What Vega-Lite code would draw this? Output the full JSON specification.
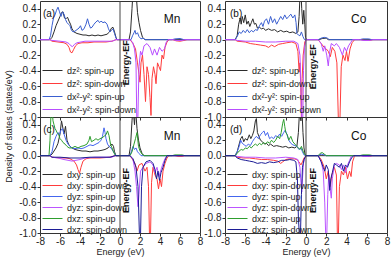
{
"$schema": "https://vega.github.io/schema/vega-lite/v6.json",
"padding": {"left": 4, "top": 0, "right": 2, "bottom": 0},
"config": {
 "font": "Liberation Sans",
 "view": {"stroke": "#333", "strokeWidth": 1},
 "axis": {"grid": false, "labelFontSize": 10, "titleFontSize": 9, "titleFontWeight": "normal", "labelColor": "#222", "titleColor": "#222", "tickColor": "#333", "domainColor": "#333", "tickSize": 3, "labelPadding": 1, "labelOverlap": false},
 "axisX": {"labelPadding": 0},
 "legend": {"orient": "none", "legendX": 8, "title": null, "labelFontSize": 9, "labelColor": "#222", "symbolType": "M-2.5,0H2.5", "symbolSize": 64, "symbolStrokeWidth": 1, "symbolFillColor": "transparent", "padding": 0, "rowPadding": 3, "labelOffset": 10, "labelLimit": 300},
 "text": {"color": "#111"}
},
"columns": 2,
"spacing": {"row": 0, "column": 25},
"bounds": "flush",
"resolve": {"scale": {"color": "independent"}, "legend": {"color": "independent"}},
"datasets": {
"a": [
{"s":"dz²: spin-up","e":-8,"v":0},{"s":"dz²: spin-up","e":-7,"v":0},{"s":"dz²: spin-up","e":-6.8,"v":0.03},{"s":"dz²: spin-up","e":-6.6,"v":0.1},{"s":"dz²: spin-up","e":-6.4,"v":0.18},{"s":"dz²: spin-up","e":-6.2,"v":0.24},{"s":"dz²: spin-up","e":-6,"v":0.3},{"s":"dz²: spin-up","e":-5.85,"v":0.35},{"s":"dz²: spin-up","e":-5.7,"v":0.36},{"s":"dz²: spin-up","e":-5.55,"v":0.28},{"s":"dz²: spin-up","e":-5.4,"v":0.27},{"s":"dz²: spin-up","e":-5.25,"v":0.29},{"s":"dz²: spin-up","e":-5.1,"v":0.24},{"s":"dz²: spin-up","e":-4.95,"v":0.2},{"s":"dz²: spin-up","e":-4.8,"v":0.14},{"s":"dz²: spin-up","e":-4.6,"v":0.1},{"s":"dz²: spin-up","e":-4.3,"v":0.08},{"s":"dz²: spin-up","e":-4,"v":0.07},{"s":"dz²: spin-up","e":-3.7,"v":0.06},{"s":"dz²: spin-up","e":-3.4,"v":0.06},{"s":"dz²: spin-up","e":-3.1,"v":0.05},{"s":"dz²: spin-up","e":-2.8,"v":0.06},{"s":"dz²: spin-up","e":-2.5,"v":0.05},{"s":"dz²: spin-up","e":-2.2,"v":0.06},{"s":"dz²: spin-up","e":-1.9,"v":0.05},{"s":"dz²: spin-up","e":-1.6,"v":0.06},{"s":"dz²: spin-up","e":-1.3,"v":0.07},{"s":"dz²: spin-up","e":-1.05,"v":0.1},{"s":"dz²: spin-up","e":-0.85,"v":0.15},{"s":"dz²: spin-up","e":-0.7,"v":0.16},{"s":"dz²: spin-up","e":-0.55,"v":0.1},{"s":"dz²: spin-up","e":-0.4,"v":0.03},{"s":"dz²: spin-up","e":-0.3,"v":0},{"s":"dz²: spin-up","e":0.9,"v":0},{"s":"dz²: spin-up","e":1.05,"v":0.1},{"s":"dz²: spin-up","e":1.2,"v":0.4},{"s":"dz²: spin-up","e":1.3,"v":0.62},{"s":"dz²: spin-up","e":1.45,"v":0.55},{"s":"dz²: spin-up","e":1.6,"v":0.62},{"s":"dz²: spin-up","e":1.75,"v":0.35},{"s":"dz²: spin-up","e":1.9,"v":0.22},{"s":"dz²: spin-up","e":2.05,"v":0.12},{"s":"dz²: spin-up","e":2.25,"v":0.03},{"s":"dz²: spin-up","e":2.5,"v":0},{"s":"dz²: spin-up","e":8,"v":0},
{"s":"dz²: spin-down","e":-8,"v":0},{"s":"dz²: spin-down","e":-7,"v":0},{"s":"dz²: spin-down","e":-6.8,"v":-0.02},{"s":"dz²: spin-down","e":-6.2,"v":-0.03},{"s":"dz²: spin-down","e":-5.6,"v":-0.04},{"s":"dz²: spin-down","e":-5.3,"v":-0.06},{"s":"dz²: spin-down","e":-5.1,"v":-0.1},{"s":"dz²: spin-down","e":-4.95,"v":-0.16},{"s":"dz²: spin-down","e":-4.8,"v":-0.17},{"s":"dz²: spin-down","e":-4.65,"v":-0.13},{"s":"dz²: spin-down","e":-4.45,"v":-0.08},{"s":"dz²: spin-down","e":-4.2,"v":-0.05},{"s":"dz²: spin-down","e":-3.8,"v":-0.04},{"s":"dz²: spin-down","e":-3.2,"v":-0.04},{"s":"dz²: spin-down","e":-2.6,"v":-0.03},{"s":"dz²: spin-down","e":-2,"v":-0.03},{"s":"dz²: spin-down","e":-1.4,"v":-0.03},{"s":"dz²: spin-down","e":-0.8,"v":-0.02},{"s":"dz²: spin-down","e":-0.4,"v":0},{"s":"dz²: spin-down","e":1,"v":0},{"s":"dz²: spin-down","e":1.3,"v":-0.05},{"s":"dz²: spin-down","e":1.55,"v":-0.12},{"s":"dz²: spin-down","e":1.75,"v":-0.3},{"s":"dz²: spin-down","e":1.9,"v":-0.45},{"s":"dz²: spin-down","e":2,"v":-0.55},{"s":"dz²: spin-down","e":2.1,"v":-0.3},{"s":"dz²: spin-down","e":2.25,"v":-0.2},{"s":"dz²: spin-down","e":2.4,"v":-0.45},{"s":"dz²: spin-down","e":2.55,"v":-0.8},{"s":"dz²: spin-down","e":2.7,"v":-0.35},{"s":"dz²: spin-down","e":2.85,"v":-0.45},{"s":"dz²: spin-down","e":3,"v":-0.75},{"s":"dz²: spin-down","e":3.1,"v":-0.98},{"s":"dz²: spin-down","e":3.2,"v":-0.5},{"s":"dz²: spin-down","e":3.35,"v":-0.35},{"s":"dz²: spin-down","e":3.5,"v":-0.45},{"s":"dz²: spin-down","e":3.6,"v":-0.57},{"s":"dz²: spin-down","e":3.75,"v":-0.3},{"s":"dz²: spin-down","e":3.9,"v":-0.35},{"s":"dz²: spin-down","e":4.05,"v":-0.4},{"s":"dz²: spin-down","e":4.2,"v":-0.2},{"s":"dz²: spin-down","e":4.35,"v":-0.25},{"s":"dz²: spin-down","e":4.5,"v":-0.1},{"s":"dz²: spin-down","e":4.7,"v":-0.03},{"s":"dz²: spin-down","e":4.9,"v":0},{"s":"dz²: spin-down","e":5.3,"v":0},{"s":"dz²: spin-down","e":5.6,"v":-0.015},{"s":"dz²: spin-down","e":6,"v":-0.02},{"s":"dz²: spin-down","e":6.4,"v":-0.01},{"s":"dz²: spin-down","e":6.7,"v":0},{"s":"dz²: spin-down","e":8,"v":0},
{"s":"dx²-y²: spin-up","e":-8,"v":0},{"s":"dx²-y²: spin-up","e":-7.1,"v":0},{"s":"dx²-y²: spin-up","e":-6.95,"v":0.05},{"s":"dx²-y²: spin-up","e":-6.8,"v":0.18},{"s":"dx²-y²: spin-up","e":-6.65,"v":0.28},{"s":"dx²-y²: spin-up","e":-6.5,"v":0.32},{"s":"dx²-y²: spin-up","e":-6.35,"v":0.38},{"s":"dx²-y²: spin-up","e":-6.2,"v":0.42},{"s":"dx²-y²: spin-up","e":-6.05,"v":0.36},{"s":"dx²-y²: spin-up","e":-5.9,"v":0.3},{"s":"dx²-y²: spin-up","e":-5.75,"v":0.36},{"s":"dx²-y²: spin-up","e":-5.6,"v":0.33},{"s":"dx²-y²: spin-up","e":-5.45,"v":0.26},{"s":"dx²-y²: spin-up","e":-5.3,"v":0.22},{"s":"dx²-y²: spin-up","e":-5.15,"v":0.2},{"s":"dx²-y²: spin-up","e":-5,"v":0.18},{"s":"dx²-y²: spin-up","e":-4.85,"v":0.12},{"s":"dx²-y²: spin-up","e":-4.7,"v":0.1},{"s":"dx²-y²: spin-up","e":-4.5,"v":0.11},{"s":"dx²-y²: spin-up","e":-4.3,"v":0.13},{"s":"dx²-y²: spin-up","e":-4.1,"v":0.15},{"s":"dx²-y²: spin-up","e":-3.95,"v":0.18},{"s":"dx²-y²: spin-up","e":-3.8,"v":0.12},{"s":"dx²-y²: spin-up","e":-3.6,"v":0.14},{"s":"dx²-y²: spin-up","e":-3.4,"v":0.2},{"s":"dx²-y²: spin-up","e":-3.25,"v":0.27},{"s":"dx²-y²: spin-up","e":-3.1,"v":0.2},{"s":"dx²-y²: spin-up","e":-2.95,"v":0.15},{"s":"dx²-y²: spin-up","e":-2.8,"v":0.16},{"s":"dx²-y²: spin-up","e":-2.6,"v":0.2},{"s":"dx²-y²: spin-up","e":-2.4,"v":0.23},{"s":"dx²-y²: spin-up","e":-2.2,"v":0.25},{"s":"dx²-y²: spin-up","e":-2.05,"v":0.22},{"s":"dx²-y²: spin-up","e":-1.9,"v":0.24},{"s":"dx²-y²: spin-up","e":-1.7,"v":0.22},{"s":"dx²-y²: spin-up","e":-1.5,"v":0.23},{"s":"dx²-y²: spin-up","e":-1.3,"v":0.2},{"s":"dx²-y²: spin-up","e":-1.15,"v":0.14},{"s":"dx²-y²: spin-up","e":-1,"v":0.1},{"s":"dx²-y²: spin-up","e":-0.85,"v":0.12},{"s":"dx²-y²: spin-up","e":-0.7,"v":0.14},{"s":"dx²-y²: spin-up","e":-0.55,"v":0.08},{"s":"dx²-y²: spin-up","e":-0.4,"v":0.02},{"s":"dx²-y²: spin-up","e":-0.3,"v":0},{"s":"dx²-y²: spin-up","e":1.1,"v":0},{"s":"dx²-y²: spin-up","e":1.25,"v":0.05},{"s":"dx²-y²: spin-up","e":1.4,"v":0.09},{"s":"dx²-y²: spin-up","e":1.5,"v":0.12},{"s":"dx²-y²: spin-up","e":1.6,"v":0.07},{"s":"dx²-y²: spin-up","e":1.75,"v":0.09},{"s":"dx²-y²: spin-up","e":1.9,"v":0.04},{"s":"dx²-y²: spin-up","e":2.1,"v":0.01},{"s":"dx²-y²: spin-up","e":2.3,"v":0.02},{"s":"dx²-y²: spin-up","e":2.5,"v":0},{"s":"dx²-y²: spin-up","e":5.2,"v":0},{"s":"dx²-y²: spin-up","e":5.5,"v":0.01},{"s":"dx²-y²: spin-up","e":6,"v":0.015},{"s":"dx²-y²: spin-up","e":6.4,"v":0},{"s":"dx²-y²: spin-up","e":8,"v":0},
{"s":"dx²-y²: spin-down","e":-8,"v":0},{"s":"dx²-y²: spin-down","e":-7,"v":0},{"s":"dx²-y²: spin-down","e":-6.8,"v":-0.01},{"s":"dx²-y²: spin-down","e":-6,"v":-0.02},{"s":"dx²-y²: spin-down","e":-5.4,"v":-0.03},{"s":"dx²-y²: spin-down","e":-5.1,"v":-0.05},{"s":"dx²-y²: spin-down","e":-4.9,"v":-0.08},{"s":"dx²-y²: spin-down","e":-4.75,"v":-0.09},{"s":"dx²-y²: spin-down","e":-4.55,"v":-0.06},{"s":"dx²-y²: spin-down","e":-4.3,"v":-0.04},{"s":"dx²-y²: spin-down","e":-3.5,"v":-0.02},{"s":"dx²-y²: spin-down","e":-2.5,"v":-0.02},{"s":"dx²-y²: spin-down","e":-1.5,"v":-0.02},{"s":"dx²-y²: spin-down","e":-0.8,"v":-0.02},{"s":"dx²-y²: spin-down","e":-0.4,"v":0},{"s":"dx²-y²: spin-down","e":1,"v":0},{"s":"dx²-y²: spin-down","e":1.25,"v":-0.03},{"s":"dx²-y²: spin-down","e":1.45,"v":-0.12},{"s":"dx²-y²: spin-down","e":1.6,"v":-0.3},{"s":"dx²-y²: spin-down","e":1.68,"v":-1.05},{"s":"dx²-y²: spin-down","e":1.78,"v":-1.05},{"s":"dx²-y²: spin-down","e":1.9,"v":-0.35},{"s":"dx²-y²: spin-down","e":2.05,"v":-0.15},{"s":"dx²-y²: spin-down","e":2.2,"v":-0.2},{"s":"dx²-y²: spin-down","e":2.4,"v":-0.08},{"s":"dx²-y²: spin-down","e":2.7,"v":-0.05},{"s":"dx²-y²: spin-down","e":3,"v":-0.1},{"s":"dx²-y²: spin-down","e":3.25,"v":-0.2},{"s":"dx²-y²: spin-down","e":3.45,"v":-0.12},{"s":"dx²-y²: spin-down","e":3.7,"v":-0.2},{"s":"dx²-y²: spin-down","e":3.95,"v":-0.1},{"s":"dx²-y²: spin-down","e":4.2,"v":-0.15},{"s":"dx²-y²: spin-down","e":4.45,"v":-0.12},{"s":"dx²-y²: spin-down","e":4.6,"v":-0.04},{"s":"dx²-y²: spin-down","e":4.8,"v":0},{"s":"dx²-y²: spin-down","e":5.3,"v":0},{"s":"dx²-y²: spin-down","e":5.6,"v":-0.01},{"s":"dx²-y²: spin-down","e":6.2,"v":-0.01},{"s":"dx²-y²: spin-down","e":6.5,"v":0},{"s":"dx²-y²: spin-down","e":8,"v":0}
],
"b": [
{"s":"dz²: spin-up","e":-8,"v":0},{"s":"dz²: spin-up","e":-7,"v":0},{"s":"dz²: spin-up","e":-6.8,"v":0.05},{"s":"dz²: spin-up","e":-6.65,"v":0.2},{"s":"dz²: spin-up","e":-6.5,"v":0.28},{"s":"dz²: spin-up","e":-6.4,"v":0.2},{"s":"dz²: spin-up","e":-6.3,"v":0.3},{"s":"dz²: spin-up","e":-6.15,"v":0.22},{"s":"dz²: spin-up","e":-6,"v":0.32},{"s":"dz²: spin-up","e":-5.85,"v":0.2},{"s":"dz²: spin-up","e":-5.7,"v":0.24},{"s":"dz²: spin-up","e":-5.55,"v":0.17},{"s":"dz²: spin-up","e":-5.4,"v":0.22},{"s":"dz²: spin-up","e":-5.25,"v":0.27},{"s":"dz²: spin-up","e":-5.1,"v":0.2},{"s":"dz²: spin-up","e":-4.95,"v":0.21},{"s":"dz²: spin-up","e":-4.8,"v":0.15},{"s":"dz²: spin-up","e":-4.6,"v":0.16},{"s":"dz²: spin-up","e":-4.4,"v":0.14},{"s":"dz²: spin-up","e":-4.2,"v":0.15},{"s":"dz²: spin-up","e":-4,"v":0.12},{"s":"dz²: spin-up","e":-3.7,"v":0.14},{"s":"dz²: spin-up","e":-3.4,"v":0.12},{"s":"dz²: spin-up","e":-3.1,"v":0.13},{"s":"dz²: spin-up","e":-2.8,"v":0.1},{"s":"dz²: spin-up","e":-2.5,"v":0.12},{"s":"dz²: spin-up","e":-2.2,"v":0.1},{"s":"dz²: spin-up","e":-1.9,"v":0.11},{"s":"dz²: spin-up","e":-1.6,"v":0.09},{"s":"dz²: spin-up","e":-1.3,"v":0.1},{"s":"dz²: spin-up","e":-1,"v":0.08},{"s":"dz²: spin-up","e":-0.8,"v":0.1},{"s":"dz²: spin-up","e":-0.68,"v":0.3},{"s":"dz²: spin-up","e":-0.6,"v":0.55},{"s":"dz²: spin-up","e":-0.5,"v":0.62},{"s":"dz²: spin-up","e":-0.42,"v":0.4},{"s":"dz²: spin-up","e":-0.32,"v":0.2},{"s":"dz²: spin-up","e":-0.22,"v":0.38},{"s":"dz²: spin-up","e":-0.12,"v":0.2},{"s":"dz²: spin-up","e":-0.05,"v":0.03},{"s":"dz²: spin-up","e":0.05,"v":0},{"s":"dz²: spin-up","e":1.3,"v":0},{"s":"dz²: spin-up","e":1.6,"v":0.015},{"s":"dz²: spin-up","e":2,"v":0.02},{"s":"dz²: spin-up","e":2.2,"v":0},{"s":"dz²: spin-up","e":8,"v":0},
{"s":"dz²: spin-down","e":-8,"v":0},{"s":"dz²: spin-down","e":-7,"v":0},{"s":"dz²: spin-down","e":-6.8,"v":-0.02},{"s":"dz²: spin-down","e":-6,"v":-0.03},{"s":"dz²: spin-down","e":-5.5,"v":-0.05},{"s":"dz²: spin-down","e":-5,"v":-0.06},{"s":"dz²: spin-down","e":-4.5,"v":-0.07},{"s":"dz²: spin-down","e":-4,"v":-0.08},{"s":"dz²: spin-down","e":-3.7,"v":-0.1},{"s":"dz²: spin-down","e":-3.4,"v":-0.07},{"s":"dz²: spin-down","e":-3.1,"v":-0.09},{"s":"dz²: spin-down","e":-2.7,"v":-0.06},{"s":"dz²: spin-down","e":-2.3,"v":-0.05},{"s":"dz²: spin-down","e":-1.9,"v":-0.04},{"s":"dz²: spin-down","e":-1.4,"v":-0.03},{"s":"dz²: spin-down","e":-1,"v":-0.05},{"s":"dz²: spin-down","e":-0.8,"v":-0.15},{"s":"dz²: spin-down","e":-0.68,"v":-0.42},{"s":"dz²: spin-down","e":-0.6,"v":-0.3},{"s":"dz²: spin-down","e":-0.52,"v":-0.6},{"s":"dz²: spin-down","e":-0.45,"v":-1.05},{"s":"dz²: spin-down","e":-0.38,"v":-0.5},{"s":"dz²: spin-down","e":-0.28,"v":-0.2},{"s":"dz²: spin-down","e":-0.12,"v":-0.03},{"s":"dz²: spin-down","e":0,"v":0},{"s":"dz²: spin-down","e":1.2,"v":0},{"s":"dz²: spin-down","e":1.5,"v":-0.05},{"s":"dz²: spin-down","e":1.8,"v":-0.1},{"s":"dz²: spin-down","e":2,"v":-0.12},{"s":"dz²: spin-down","e":2.2,"v":-0.15},{"s":"dz²: spin-down","e":2.4,"v":-0.22},{"s":"dz²: spin-down","e":2.6,"v":-0.1},{"s":"dz²: spin-down","e":2.85,"v":-0.15},{"s":"dz²: spin-down","e":3.05,"v":-0.3},{"s":"dz²: spin-down","e":3.2,"v":-1.05},{"s":"dz²: spin-down","e":3.35,"v":-1.05},{"s":"dz²: spin-down","e":3.48,"v":-0.35},{"s":"dz²: spin-down","e":3.65,"v":-0.2},{"s":"dz²: spin-down","e":3.85,"v":-0.27},{"s":"dz²: spin-down","e":4,"v":-0.15},{"s":"dz²: spin-down","e":4.15,"v":-0.28},{"s":"dz²: spin-down","e":4.35,"v":-0.12},{"s":"dz²: spin-down","e":4.55,"v":-0.04},{"s":"dz²: spin-down","e":4.8,"v":0},{"s":"dz²: spin-down","e":5.5,"v":0},{"s":"dz²: spin-down","e":5.8,"v":-0.01},{"s":"dz²: spin-down","e":6.3,"v":-0.01},{"s":"dz²: spin-down","e":6.6,"v":0},{"s":"dz²: spin-down","e":8,"v":0},
{"s":"dx²-y²: spin-up","e":-8,"v":0},{"s":"dx²-y²: spin-up","e":-7,"v":0},{"s":"dx²-y²: spin-up","e":-6.8,"v":0.04},{"s":"dx²-y²: spin-up","e":-6.6,"v":0.1},{"s":"dx²-y²: spin-up","e":-6.4,"v":0.08},{"s":"dx²-y²: spin-up","e":-6.2,"v":0.12},{"s":"dx²-y²: spin-up","e":-6,"v":0.09},{"s":"dx²-y²: spin-up","e":-5.8,"v":0.13},{"s":"dx²-y²: spin-up","e":-5.6,"v":0.09},{"s":"dx²-y²: spin-up","e":-5.4,"v":0.12},{"s":"dx²-y²: spin-up","e":-5.2,"v":0.1},{"s":"dx²-y²: spin-up","e":-5,"v":0.13},{"s":"dx²-y²: spin-up","e":-4.8,"v":0.12},{"s":"dx²-y²: spin-up","e":-4.6,"v":0.18},{"s":"dx²-y²: spin-up","e":-4.4,"v":0.22},{"s":"dx²-y²: spin-up","e":-4.25,"v":0.17},{"s":"dx²-y²: spin-up","e":-4.1,"v":0.24},{"s":"dx²-y²: spin-up","e":-3.9,"v":0.27},{"s":"dx²-y²: spin-up","e":-3.7,"v":0.2},{"s":"dx²-y²: spin-up","e":-3.5,"v":0.3},{"s":"dx²-y²: spin-up","e":-3.3,"v":0.22},{"s":"dx²-y²: spin-up","e":-3.1,"v":0.27},{"s":"dx²-y²: spin-up","e":-2.9,"v":0.2},{"s":"dx²-y²: spin-up","e":-2.7,"v":0.25},{"s":"dx²-y²: spin-up","e":-2.5,"v":0.3},{"s":"dx²-y²: spin-up","e":-2.3,"v":0.26},{"s":"dx²-y²: spin-up","e":-2.1,"v":0.32},{"s":"dx²-y²: spin-up","e":-1.9,"v":0.27},{"s":"dx²-y²: spin-up","e":-1.7,"v":0.3},{"s":"dx²-y²: spin-up","e":-1.5,"v":0.33},{"s":"dx²-y²: spin-up","e":-1.3,"v":0.28},{"s":"dx²-y²: spin-up","e":-1.1,"v":0.32},{"s":"dx²-y²: spin-up","e":-0.98,"v":0.22},{"s":"dx²-y²: spin-up","e":-0.9,"v":0.08},{"s":"dx²-y²: spin-up","e":-0.75,"v":0.06},{"s":"dx²-y²: spin-up","e":-0.6,"v":0.05},{"s":"dx²-y²: spin-up","e":-0.45,"v":0.1},{"s":"dx²-y²: spin-up","e":-0.3,"v":0.04},{"s":"dx²-y²: spin-up","e":-0.15,"v":0},{"s":"dx²-y²: spin-up","e":1.2,"v":0},{"s":"dx²-y²: spin-up","e":1.5,"v":0.02},{"s":"dx²-y²: spin-up","e":1.8,"v":0.03},{"s":"dx²-y²: spin-up","e":2.1,"v":0.02},{"s":"dx²-y²: spin-up","e":2.3,"v":0},{"s":"dx²-y²: spin-up","e":5.3,"v":0},{"s":"dx²-y²: spin-up","e":5.6,"v":0.01},{"s":"dx²-y²: spin-up","e":6.2,"v":0.01},{"s":"dx²-y²: spin-up","e":6.5,"v":0},{"s":"dx²-y²: spin-up","e":8,"v":0},
{"s":"dx²-y²: spin-down","e":-8,"v":0},{"s":"dx²-y²: spin-down","e":-7,"v":0},{"s":"dx²-y²: spin-down","e":-6.8,"v":-0.01},{"s":"dx²-y²: spin-down","e":-6,"v":-0.02},{"s":"dx²-y²: spin-down","e":-5,"v":-0.02},{"s":"dx²-y²: spin-down","e":-4,"v":-0.03},{"s":"dx²-y²: spin-down","e":-3,"v":-0.03},{"s":"dx²-y²: spin-down","e":-2,"v":-0.02},{"s":"dx²-y²: spin-down","e":-1.2,"v":-0.02},{"s":"dx²-y²: spin-down","e":-0.8,"v":-0.05},{"s":"dx²-y²: spin-down","e":-0.6,"v":-0.2},{"s":"dx²-y²: spin-down","e":-0.5,"v":-0.6},{"s":"dx²-y²: spin-down","e":-0.42,"v":-1.05},{"s":"dx²-y²: spin-down","e":-0.32,"v":-1.05},{"s":"dx²-y²: spin-down","e":-0.25,"v":-0.4},{"s":"dx²-y²: spin-down","e":-0.15,"v":-0.1},{"s":"dx²-y²: spin-down","e":0,"v":0},{"s":"dx²-y²: spin-down","e":1.2,"v":0},{"s":"dx²-y²: spin-down","e":1.5,"v":-0.05},{"s":"dx²-y²: spin-down","e":1.7,"v":-0.15},{"s":"dx²-y²: spin-down","e":1.85,"v":-0.08},{"s":"dx²-y²: spin-down","e":2.05,"v":-0.2},{"s":"dx²-y²: spin-down","e":2.2,"v":-0.34},{"s":"dx²-y²: spin-down","e":2.35,"v":-0.15},{"s":"dx²-y²: spin-down","e":2.5,"v":-0.05},{"s":"dx²-y²: spin-down","e":2.8,"v":-0.08},{"s":"dx²-y²: spin-down","e":3,"v":-0.05},{"s":"dx²-y²: spin-down","e":3.3,"v":-0.1},{"s":"dx²-y²: spin-down","e":3.6,"v":-0.2},{"s":"dx²-y²: spin-down","e":3.8,"v":-0.1},{"s":"dx²-y²: spin-down","e":4,"v":-0.15},{"s":"dx²-y²: spin-down","e":4.2,"v":-0.08},{"s":"dx²-y²: spin-down","e":4.4,"v":-0.04},{"s":"dx²-y²: spin-down","e":4.6,"v":0},{"s":"dx²-y²: spin-down","e":5.3,"v":0},{"s":"dx²-y²: spin-down","e":5.6,"v":-0.01},{"s":"dx²-y²: spin-down","e":6.3,"v":-0.01},{"s":"dx²-y²: spin-down","e":6.6,"v":0},{"s":"dx²-y²: spin-down","e":8,"v":0}
],
"c": [
{"s":"dxy: spin-up","e":-8,"v":0},{"s":"dxy: spin-up","e":-7,"v":0},{"s":"dxy: spin-up","e":-6.8,"v":0.02},{"s":"dxy: spin-up","e":-6.6,"v":0.06},{"s":"dxy: spin-up","e":-6.4,"v":0.1},{"s":"dxy: spin-up","e":-6.2,"v":0.16},{"s":"dxy: spin-up","e":-6,"v":0.28},{"s":"dxy: spin-up","e":-5.85,"v":0.45},{"s":"dxy: spin-up","e":-5.7,"v":0.35},{"s":"dxy: spin-up","e":-5.6,"v":0.28},{"s":"dxy: spin-up","e":-5.45,"v":0.38},{"s":"dxy: spin-up","e":-5.3,"v":0.2},{"s":"dxy: spin-up","e":-5.15,"v":0.15},{"s":"dxy: spin-up","e":-5,"v":0.12},{"s":"dxy: spin-up","e":-4.8,"v":0.1},{"s":"dxy: spin-up","e":-4.5,"v":0.08},{"s":"dxy: spin-up","e":-4.2,"v":0.07},{"s":"dxy: spin-up","e":-3.8,"v":0.06},{"s":"dxy: spin-up","e":-3.4,"v":0.06},{"s":"dxy: spin-up","e":-3,"v":0.05},{"s":"dxy: spin-up","e":-2.6,"v":0.06},{"s":"dxy: spin-up","e":-2.2,"v":0.06},{"s":"dxy: spin-up","e":-1.8,"v":0.07},{"s":"dxy: spin-up","e":-1.5,"v":0.08},{"s":"dxy: spin-up","e":-1.2,"v":0.1},{"s":"dxy: spin-up","e":-1,"v":0.13},{"s":"dxy: spin-up","e":-0.8,"v":0.15},{"s":"dxy: spin-up","e":-0.65,"v":0.12},{"s":"dxy: spin-up","e":-0.55,"v":0.05},{"s":"dxy: spin-up","e":-0.4,"v":0},{"s":"dxy: spin-up","e":0.9,"v":0},{"s":"dxy: spin-up","e":1.05,"v":0.12},{"s":"dxy: spin-up","e":1.2,"v":0.45},{"s":"dxy: spin-up","e":1.3,"v":0.62},{"s":"dxy: spin-up","e":1.45,"v":0.4},{"s":"dxy: spin-up","e":1.55,"v":0.62},{"s":"dxy: spin-up","e":1.7,"v":0.35},{"s":"dxy: spin-up","e":1.85,"v":0.2},{"s":"dxy: spin-up","e":2,"v":0.1},{"s":"dxy: spin-up","e":2.2,"v":0.03},{"s":"dxy: spin-up","e":2.4,"v":0},{"s":"dxy: spin-up","e":8,"v":0},
{"s":"dxy: spin-down","e":-8,"v":0},{"s":"dxy: spin-down","e":-7,"v":0},{"s":"dxy: spin-down","e":-6.8,"v":-0.02},{"s":"dxy: spin-down","e":-6,"v":-0.03},{"s":"dxy: spin-down","e":-5.4,"v":-0.03},{"s":"dxy: spin-down","e":-5,"v":-0.04},{"s":"dxy: spin-down","e":-4.6,"v":-0.07},{"s":"dxy: spin-down","e":-4.35,"v":-0.12},{"s":"dxy: spin-down","e":-4.2,"v":-0.18},{"s":"dxy: spin-down","e":-4.05,"v":-0.23},{"s":"dxy: spin-down","e":-3.9,"v":-0.15},{"s":"dxy: spin-down","e":-3.7,"v":-0.07},{"s":"dxy: spin-down","e":-3.4,"v":-0.04},{"s":"dxy: spin-down","e":-3,"v":-0.03},{"s":"dxy: spin-down","e":-2,"v":-0.03},{"s":"dxy: spin-down","e":-1,"v":-0.02},{"s":"dxy: spin-down","e":-0.5,"v":0},{"s":"dxy: spin-down","e":1,"v":0},{"s":"dxy: spin-down","e":1.2,"v":-0.04},{"s":"dxy: spin-down","e":1.5,"v":-0.1},{"s":"dxy: spin-down","e":1.7,"v":-0.2},{"s":"dxy: spin-down","e":1.9,"v":-0.12},{"s":"dxy: spin-down","e":2.2,"v":-0.1},{"s":"dxy: spin-down","e":2.5,"v":-0.2},{"s":"dxy: spin-down","e":2.7,"v":-0.15},{"s":"dxy: spin-down","e":2.85,"v":-0.4},{"s":"dxy: spin-down","e":2.95,"v":-1.05},{"s":"dxy: spin-down","e":3.05,"v":-1.05},{"s":"dxy: spin-down","e":3.15,"v":-0.35},{"s":"dxy: spin-down","e":3.3,"v":-0.15},{"s":"dxy: spin-down","e":3.5,"v":-0.25},{"s":"dxy: spin-down","e":3.7,"v":-0.3},{"s":"dxy: spin-down","e":3.85,"v":-0.43},{"s":"dxy: spin-down","e":4,"v":-0.3},{"s":"dxy: spin-down","e":4.15,"v":-0.4},{"s":"dxy: spin-down","e":4.3,"v":-0.2},{"s":"dxy: spin-down","e":4.5,"v":-0.1},{"s":"dxy: spin-down","e":4.7,"v":-0.03},{"s":"dxy: spin-down","e":4.9,"v":0},{"s":"dxy: spin-down","e":5.5,"v":0},{"s":"dxy: spin-down","e":5.8,"v":-0.01},{"s":"dxy: spin-down","e":6.2,"v":-0.01},{"s":"dxy: spin-down","e":6.5,"v":0},{"s":"dxy: spin-down","e":8,"v":0},
{"s":"dyz: spin-up","e":-8,"v":0},{"s":"dyz: spin-up","e":-7,"v":0},{"s":"dyz: spin-up","e":-6.8,"v":0.05},{"s":"dyz: spin-up","e":-6.6,"v":0.18},{"s":"dyz: spin-up","e":-6.4,"v":0.25},{"s":"dyz: spin-up","e":-6.2,"v":0.3},{"s":"dyz: spin-up","e":-6.05,"v":0.27},{"s":"dyz: spin-up","e":-5.9,"v":0.33},{"s":"dyz: spin-up","e":-5.75,"v":0.35},{"s":"dyz: spin-up","e":-5.6,"v":0.28},{"s":"dyz: spin-up","e":-5.4,"v":0.2},{"s":"dyz: spin-up","e":-5.2,"v":0.15},{"s":"dyz: spin-up","e":-5,"v":0.12},{"s":"dyz: spin-up","e":-4.8,"v":0.1},{"s":"dyz: spin-up","e":-4.5,"v":0.09},{"s":"dyz: spin-up","e":-4.2,"v":0.1},{"s":"dyz: spin-up","e":-3.9,"v":0.09},{"s":"dyz: spin-up","e":-3.6,"v":0.1},{"s":"dyz: spin-up","e":-3.3,"v":0.12},{"s":"dyz: spin-up","e":-3,"v":0.14},{"s":"dyz: spin-up","e":-2.7,"v":0.13},{"s":"dyz: spin-up","e":-2.4,"v":0.15},{"s":"dyz: spin-up","e":-2.1,"v":0.17},{"s":"dyz: spin-up","e":-1.9,"v":0.2},{"s":"dyz: spin-up","e":-1.75,"v":0.25},{"s":"dyz: spin-up","e":-1.6,"v":0.36},{"s":"dyz: spin-up","e":-1.5,"v":0.3},{"s":"dyz: spin-up","e":-1.4,"v":0.22},{"s":"dyz: spin-up","e":-1.25,"v":0.15},{"s":"dyz: spin-up","e":-1.1,"v":0.12},{"s":"dyz: spin-up","e":-0.9,"v":0.1},{"s":"dyz: spin-up","e":-0.7,"v":0.06},{"s":"dyz: spin-up","e":-0.5,"v":0.02},{"s":"dyz: spin-up","e":-0.4,"v":0},{"s":"dyz: spin-up","e":1,"v":0},{"s":"dyz: spin-up","e":1.15,"v":0.06},{"s":"dyz: spin-up","e":1.3,"v":0.12},{"s":"dyz: spin-up","e":1.45,"v":0.08},{"s":"dyz: spin-up","e":1.6,"v":0.1},{"s":"dyz: spin-up","e":1.75,"v":0.05},{"s":"dyz: spin-up","e":1.9,"v":0.03},{"s":"dyz: spin-up","e":2.1,"v":0},{"s":"dyz: spin-up","e":8,"v":0},
{"s":"dyz: spin-down","e":-8,"v":0},{"s":"dyz: spin-down","e":-7,"v":0},{"s":"dyz: spin-down","e":-6.8,"v":-0.02},{"s":"dyz: spin-down","e":-6.2,"v":-0.03},{"s":"dyz: spin-down","e":-5.6,"v":-0.05},{"s":"dyz: spin-down","e":-5.2,"v":-0.06},{"s":"dyz: spin-down","e":-4.8,"v":-0.07},{"s":"dyz: spin-down","e":-4.4,"v":-0.06},{"s":"dyz: spin-down","e":-4,"v":-0.05},{"s":"dyz: spin-down","e":-3.5,"v":-0.03},{"s":"dyz: spin-down","e":-2.5,"v":-0.02},{"s":"dyz: spin-down","e":-1.5,"v":-0.02},{"s":"dyz: spin-down","e":-0.8,"v":-0.02},{"s":"dyz: spin-down","e":-0.5,"v":0},{"s":"dyz: spin-down","e":1,"v":0},{"s":"dyz: spin-down","e":1.3,"v":-0.05},{"s":"dyz: spin-down","e":1.5,"v":-0.2},{"s":"dyz: spin-down","e":1.65,"v":-0.4},{"s":"dyz: spin-down","e":1.8,"v":-0.66},{"s":"dyz: spin-down","e":1.9,"v":-0.5},{"s":"dyz: spin-down","e":2.05,"v":-0.2},{"s":"dyz: spin-down","e":2.3,"v":-0.15},{"s":"dyz: spin-down","e":2.6,"v":-0.1},{"s":"dyz: spin-down","e":3,"v":-0.08},{"s":"dyz: spin-down","e":3.3,"v":-0.12},{"s":"dyz: spin-down","e":3.5,"v":-0.22},{"s":"dyz: spin-down","e":3.7,"v":-0.15},{"s":"dyz: spin-down","e":3.9,"v":-0.27},{"s":"dyz: spin-down","e":4.1,"v":-0.18},{"s":"dyz: spin-down","e":4.3,"v":-0.1},{"s":"dyz: spin-down","e":4.5,"v":-0.04},{"s":"dyz: spin-down","e":4.7,"v":0},{"s":"dyz: spin-down","e":8,"v":0},
{"s":"dxz: spin-up","e":-8,"v":0},{"s":"dxz: spin-up","e":-7.1,"v":0},{"s":"dxz: spin-up","e":-7,"v":0.2},{"s":"dxz: spin-up","e":-6.9,"v":0.55},{"s":"dxz: spin-up","e":-6.8,"v":0.6},{"s":"dxz: spin-up","e":-6.7,"v":0.45},{"s":"dxz: spin-up","e":-6.6,"v":0.4},{"s":"dxz: spin-up","e":-6.5,"v":0.35},{"s":"dxz: spin-up","e":-6.4,"v":0.33},{"s":"dxz: spin-up","e":-6.3,"v":0.3},{"s":"dxz: spin-up","e":-6.15,"v":0.28},{"s":"dxz: spin-up","e":-6,"v":0.22},{"s":"dxz: spin-up","e":-5.85,"v":0.2},{"s":"dxz: spin-up","e":-5.7,"v":0.17},{"s":"dxz: spin-up","e":-5.5,"v":0.15},{"s":"dxz: spin-up","e":-5.3,"v":0.12},{"s":"dxz: spin-up","e":-5.1,"v":0.1},{"s":"dxz: spin-up","e":-4.8,"v":0.1},{"s":"dxz: spin-up","e":-4.5,"v":0.12},{"s":"dxz: spin-up","e":-4.2,"v":0.1},{"s":"dxz: spin-up","e":-3.9,"v":0.12},{"s":"dxz: spin-up","e":-3.6,"v":0.13},{"s":"dxz: spin-up","e":-3.3,"v":0.15},{"s":"dxz: spin-up","e":-3.1,"v":0.2},{"s":"dxz: spin-up","e":-3,"v":0.25},{"s":"dxz: spin-up","e":-2.85,"v":0.18},{"s":"dxz: spin-up","e":-2.6,"v":0.2},{"s":"dxz: spin-up","e":-2.4,"v":0.22},{"s":"dxz: spin-up","e":-2.2,"v":0.2},{"s":"dxz: spin-up","e":-2,"v":0.22},{"s":"dxz: spin-up","e":-1.8,"v":0.23},{"s":"dxz: spin-up","e":-1.6,"v":0.25},{"s":"dxz: spin-up","e":-1.4,"v":0.27},{"s":"dxz: spin-up","e":-1.25,"v":0.32},{"s":"dxz: spin-up","e":-1.1,"v":0.26},{"s":"dxz: spin-up","e":-0.95,"v":0.15},{"s":"dxz: spin-up","e":-0.8,"v":0.1},{"s":"dxz: spin-up","e":-0.65,"v":0.05},{"s":"dxz: spin-up","e":-0.5,"v":0.01},{"s":"dxz: spin-up","e":-0.4,"v":0},{"s":"dxz: spin-up","e":1,"v":0},{"s":"dxz: spin-up","e":1.2,"v":0.05},{"s":"dxz: spin-up","e":1.4,"v":0.15},{"s":"dxz: spin-up","e":1.55,"v":0.22},{"s":"dxz: spin-up","e":1.7,"v":0.3},{"s":"dxz: spin-up","e":1.85,"v":0.12},{"s":"dxz: spin-up","e":2,"v":0.06},{"s":"dxz: spin-up","e":2.2,"v":0.02},{"s":"dxz: spin-up","e":2.4,"v":0},{"s":"dxz: spin-up","e":5.2,"v":0},{"s":"dxz: spin-up","e":5.5,"v":0.01},{"s":"dxz: spin-up","e":6.2,"v":0.01},{"s":"dxz: spin-up","e":6.5,"v":0},{"s":"dxz: spin-up","e":8,"v":0},
{"s":"dxz: spin-down","e":-8,"v":0},{"s":"dxz: spin-down","e":-7,"v":0},{"s":"dxz: spin-down","e":-6.8,"v":-0.02},{"s":"dxz: spin-down","e":-6,"v":-0.02},{"s":"dxz: spin-down","e":-5,"v":-0.03},{"s":"dxz: spin-down","e":-4,"v":-0.03},{"s":"dxz: spin-down","e":-3,"v":-0.02},{"s":"dxz: spin-down","e":-2,"v":-0.02},{"s":"dxz: spin-down","e":-1,"v":-0.02},{"s":"dxz: spin-down","e":-0.5,"v":0},{"s":"dxz: spin-down","e":1,"v":0},{"s":"dxz: spin-down","e":1.3,"v":-0.04},{"s":"dxz: spin-down","e":1.6,"v":-0.15},{"s":"dxz: spin-down","e":1.8,"v":-0.4},{"s":"dxz: spin-down","e":1.95,"v":-1.05},{"s":"dxz: spin-down","e":2.05,"v":-1.05},{"s":"dxz: spin-down","e":2.15,"v":-0.4},{"s":"dxz: spin-down","e":2.3,"v":-0.15},{"s":"dxz: spin-down","e":2.6,"v":-0.08},{"s":"dxz: spin-down","e":3,"v":-0.06},{"s":"dxz: spin-down","e":3.3,"v":-0.1},{"s":"dxz: spin-down","e":3.5,"v":-0.18},{"s":"dxz: spin-down","e":3.65,"v":-0.3},{"s":"dxz: spin-down","e":3.8,"v":-0.2},{"s":"dxz: spin-down","e":3.95,"v":-0.32},{"s":"dxz: spin-down","e":4.1,"v":-0.22},{"s":"dxz: spin-down","e":4.3,"v":-0.15},{"s":"dxz: spin-down","e":4.5,"v":-0.06},{"s":"dxz: spin-down","e":4.7,"v":0},{"s":"dxz: spin-down","e":8,"v":0}
],
"d": [
{"s":"dxy: spin-up","e":-8,"v":0},{"s":"dxy: spin-up","e":-7,"v":0},{"s":"dxy: spin-up","e":-6.8,"v":0.05},{"s":"dxy: spin-up","e":-6.6,"v":0.15},{"s":"dxy: spin-up","e":-6.45,"v":0.22},{"s":"dxy: spin-up","e":-6.3,"v":0.25},{"s":"dxy: spin-up","e":-6.15,"v":0.18},{"s":"dxy: spin-up","e":-6,"v":0.22},{"s":"dxy: spin-up","e":-5.8,"v":0.2},{"s":"dxy: spin-up","e":-5.6,"v":0.27},{"s":"dxy: spin-up","e":-5.45,"v":0.22},{"s":"dxy: spin-up","e":-5.3,"v":0.26},{"s":"dxy: spin-up","e":-5.15,"v":0.32},{"s":"dxy: spin-up","e":-5,"v":0.45},{"s":"dxy: spin-up","e":-4.9,"v":0.48},{"s":"dxy: spin-up","e":-4.8,"v":0.3},{"s":"dxy: spin-up","e":-4.65,"v":0.25},{"s":"dxy: spin-up","e":-4.5,"v":0.2},{"s":"dxy: spin-up","e":-4.3,"v":0.18},{"s":"dxy: spin-up","e":-4.1,"v":0.15},{"s":"dxy: spin-up","e":-3.9,"v":0.16},{"s":"dxy: spin-up","e":-3.7,"v":0.13},{"s":"dxy: spin-up","e":-3.5,"v":0.15},{"s":"dxy: spin-up","e":-3.2,"v":0.12},{"s":"dxy: spin-up","e":-2.9,"v":0.13},{"s":"dxy: spin-up","e":-2.6,"v":0.12},{"s":"dxy: spin-up","e":-2.3,"v":0.11},{"s":"dxy: spin-up","e":-2,"v":0.12},{"s":"dxy: spin-up","e":-1.7,"v":0.1},{"s":"dxy: spin-up","e":-1.4,"v":0.11},{"s":"dxy: spin-up","e":-1.1,"v":0.1},{"s":"dxy: spin-up","e":-0.9,"v":0.12},{"s":"dxy: spin-up","e":-0.75,"v":0.3},{"s":"dxy: spin-up","e":-0.65,"v":0.55},{"s":"dxy: spin-up","e":-0.5,"v":0.45},{"s":"dxy: spin-up","e":-0.4,"v":0.6},{"s":"dxy: spin-up","e":-0.3,"v":0.3},{"s":"dxy: spin-up","e":-0.2,"v":0.1},{"s":"dxy: spin-up","e":-0.1,"v":0.02},{"s":"dxy: spin-up","e":0,"v":0},{"s":"dxy: spin-up","e":8,"v":0},
{"s":"dxy: spin-down","e":-8,"v":0},{"s":"dxy: spin-down","e":-7,"v":0},{"s":"dxy: spin-down","e":-6.8,"v":-0.02},{"s":"dxy: spin-down","e":-6.2,"v":-0.03},{"s":"dxy: spin-down","e":-5.6,"v":-0.03},{"s":"dxy: spin-down","e":-5,"v":-0.04},{"s":"dxy: spin-down","e":-4.4,"v":-0.05},{"s":"dxy: spin-down","e":-3.8,"v":-0.05},{"s":"dxy: spin-down","e":-3.2,"v":-0.06},{"s":"dxy: spin-down","e":-2.8,"v":-0.07},{"s":"dxy: spin-down","e":-2.5,"v":-0.1},{"s":"dxy: spin-down","e":-2.3,"v":-0.08},{"s":"dxy: spin-down","e":-2,"v":-0.05},{"s":"dxy: spin-down","e":-1.6,"v":-0.04},{"s":"dxy: spin-down","e":-1.2,"v":-0.04},{"s":"dxy: spin-down","e":-0.9,"v":-0.05},{"s":"dxy: spin-down","e":-0.7,"v":-0.08},{"s":"dxy: spin-down","e":-0.5,"v":-0.12},{"s":"dxy: spin-down","e":-0.35,"v":-0.08},{"s":"dxy: spin-down","e":-0.2,"v":-0.03},{"s":"dxy: spin-down","e":0,"v":0},{"s":"dxy: spin-down","e":1.2,"v":0},{"s":"dxy: spin-down","e":1.5,"v":-0.05},{"s":"dxy: spin-down","e":1.8,"v":-0.15},{"s":"dxy: spin-down","e":2,"v":-0.3},{"s":"dxy: spin-down","e":2.2,"v":-0.2},{"s":"dxy: spin-down","e":2.4,"v":-0.4},{"s":"dxy: spin-down","e":2.55,"v":-0.25},{"s":"dxy: spin-down","e":2.8,"v":-0.15},{"s":"dxy: spin-down","e":3,"v":-0.25},{"s":"dxy: spin-down","e":3.1,"v":-1.05},{"s":"dxy: spin-down","e":3.2,"v":-1.05},{"s":"dxy: spin-down","e":3.3,"v":-0.4},{"s":"dxy: spin-down","e":3.5,"v":-0.2},{"s":"dxy: spin-down","e":3.7,"v":-0.25},{"s":"dxy: spin-down","e":3.9,"v":-0.15},{"s":"dxy: spin-down","e":4.1,"v":-0.3},{"s":"dxy: spin-down","e":4.3,"v":-0.2},{"s":"dxy: spin-down","e":4.45,"v":-0.27},{"s":"dxy: spin-down","e":4.6,"v":-0.08},{"s":"dxy: spin-down","e":4.8,"v":0},{"s":"dxy: spin-down","e":5.5,"v":0},{"s":"dxy: spin-down","e":5.8,"v":-0.01},{"s":"dxy: spin-down","e":6.3,"v":-0.01},{"s":"dxy: spin-down","e":6.6,"v":0},{"s":"dxy: spin-down","e":8,"v":0},
{"s":"dyz: spin-up","e":-8,"v":0},{"s":"dyz: spin-up","e":-7,"v":0},{"s":"dyz: spin-up","e":-6.8,"v":0.05},{"s":"dyz: spin-up","e":-6.6,"v":0.12},{"s":"dyz: spin-up","e":-6.45,"v":0.2},{"s":"dyz: spin-up","e":-6.3,"v":0.16},{"s":"dyz: spin-up","e":-6.1,"v":0.14},{"s":"dyz: spin-up","e":-5.9,"v":0.12},{"s":"dyz: spin-up","e":-5.7,"v":0.15},{"s":"dyz: spin-up","e":-5.5,"v":0.13},{"s":"dyz: spin-up","e":-5.3,"v":0.18},{"s":"dyz: spin-up","e":-5.1,"v":0.22},{"s":"dyz: spin-up","e":-4.9,"v":0.25},{"s":"dyz: spin-up","e":-4.7,"v":0.22},{"s":"dyz: spin-up","e":-4.5,"v":0.27},{"s":"dyz: spin-up","e":-4.3,"v":0.3},{"s":"dyz: spin-up","e":-4.15,"v":0.32},{"s":"dyz: spin-up","e":-4,"v":0.26},{"s":"dyz: spin-up","e":-3.8,"v":0.3},{"s":"dyz: spin-up","e":-3.6,"v":0.22},{"s":"dyz: spin-up","e":-3.4,"v":0.24},{"s":"dyz: spin-up","e":-3.2,"v":0.22},{"s":"dyz: spin-up","e":-3,"v":0.26},{"s":"dyz: spin-up","e":-2.8,"v":0.24},{"s":"dyz: spin-up","e":-2.6,"v":0.28},{"s":"dyz: spin-up","e":-2.4,"v":0.25},{"s":"dyz: spin-up","e":-2.2,"v":0.3},{"s":"dyz: spin-up","e":-2.05,"v":0.33},{"s":"dyz: spin-up","e":-1.9,"v":0.28},{"s":"dyz: spin-up","e":-1.7,"v":0.2},{"s":"dyz: spin-up","e":-1.5,"v":0.16},{"s":"dyz: spin-up","e":-1.3,"v":0.14},{"s":"dyz: spin-up","e":-1.1,"v":0.13},{"s":"dyz: spin-up","e":-0.9,"v":0.12},{"s":"dyz: spin-up","e":-0.7,"v":0.08},{"s":"dyz: spin-up","e":-0.5,"v":0.1},{"s":"dyz: spin-up","e":-0.35,"v":0.05},{"s":"dyz: spin-up","e":-0.2,"v":0.01},{"s":"dyz: spin-up","e":0,"v":0},{"s":"dyz: spin-up","e":1.2,"v":0},{"s":"dyz: spin-up","e":1.5,"v":0.02},{"s":"dyz: spin-up","e":1.8,"v":0.01},{"s":"dyz: spin-up","e":2,"v":0},{"s":"dyz: spin-up","e":8,"v":0},
{"s":"dyz: spin-down","e":-8,"v":0},{"s":"dyz: spin-down","e":-7,"v":0},{"s":"dyz: spin-down","e":-6.8,"v":-0.01},{"s":"dyz: spin-down","e":-6,"v":-0.02},{"s":"dyz: spin-down","e":-5,"v":-0.02},{"s":"dyz: spin-down","e":-4,"v":-0.03},{"s":"dyz: spin-down","e":-3,"v":-0.03},{"s":"dyz: spin-down","e":-2,"v":-0.02},{"s":"dyz: spin-down","e":-1.2,"v":-0.03},{"s":"dyz: spin-down","e":-0.8,"v":-0.05},{"s":"dyz: spin-down","e":-0.6,"v":-0.15},{"s":"dyz: spin-down","e":-0.5,"v":-0.35},{"s":"dyz: spin-down","e":-0.42,"v":-0.47},{"s":"dyz: spin-down","e":-0.35,"v":-0.3},{"s":"dyz: spin-down","e":-0.25,"v":-0.1},{"s":"dyz: spin-down","e":-0.1,"v":-0.02},{"s":"dyz: spin-down","e":0,"v":0},{"s":"dyz: spin-down","e":1.2,"v":0},{"s":"dyz: spin-down","e":1.5,"v":-0.08},{"s":"dyz: spin-down","e":1.7,"v":-0.2},{"s":"dyz: spin-down","e":1.85,"v":-0.6},{"s":"dyz: spin-down","e":1.95,"v":-1.05},{"s":"dyz: spin-down","e":2.05,"v":-1.05},{"s":"dyz: spin-down","e":2.15,"v":-0.5},{"s":"dyz: spin-down","e":2.25,"v":-0.25},{"s":"dyz: spin-down","e":2.4,"v":-0.45},{"s":"dyz: spin-down","e":2.5,"v":-0.55},{"s":"dyz: spin-down","e":2.6,"v":-0.3},{"s":"dyz: spin-down","e":2.8,"v":-0.12},{"s":"dyz: spin-down","e":3,"v":-0.1},{"s":"dyz: spin-down","e":3.3,"v":-0.12},{"s":"dyz: spin-down","e":3.5,"v":-0.18},{"s":"dyz: spin-down","e":3.7,"v":-0.12},{"s":"dyz: spin-down","e":3.9,"v":-0.22},{"s":"dyz: spin-down","e":4.1,"v":-0.12},{"s":"dyz: spin-down","e":4.3,"v":-0.06},{"s":"dyz: spin-down","e":4.5,"v":0},{"s":"dyz: spin-down","e":5.4,"v":0},{"s":"dyz: spin-down","e":5.7,"v":-0.01},{"s":"dyz: spin-down","e":6.2,"v":-0.01},{"s":"dyz: spin-down","e":6.5,"v":0},{"s":"dyz: spin-down","e":8,"v":0},
{"s":"dxz: spin-up","e":-8,"v":0},{"s":"dxz: spin-up","e":-7,"v":0},{"s":"dxz: spin-up","e":-6.8,"v":0.03},{"s":"dxz: spin-up","e":-6.6,"v":0.06},{"s":"dxz: spin-up","e":-6.4,"v":0.08},{"s":"dxz: spin-up","e":-6.2,"v":0.07},{"s":"dxz: spin-up","e":-6,"v":0.1},{"s":"dxz: spin-up","e":-5.8,"v":0.09},{"s":"dxz: spin-up","e":-5.6,"v":0.12},{"s":"dxz: spin-up","e":-5.4,"v":0.1},{"s":"dxz: spin-up","e":-5.2,"v":0.13},{"s":"dxz: spin-up","e":-5,"v":0.15},{"s":"dxz: spin-up","e":-4.8,"v":0.13},{"s":"dxz: spin-up","e":-4.6,"v":0.16},{"s":"dxz: spin-up","e":-4.4,"v":0.14},{"s":"dxz: spin-up","e":-4.2,"v":0.17},{"s":"dxz: spin-up","e":-4,"v":0.15},{"s":"dxz: spin-up","e":-3.8,"v":0.18},{"s":"dxz: spin-up","e":-3.6,"v":0.16},{"s":"dxz: spin-up","e":-3.4,"v":0.2},{"s":"dxz: spin-up","e":-3.2,"v":0.17},{"s":"dxz: spin-up","e":-3,"v":0.2},{"s":"dxz: spin-up","e":-2.8,"v":0.25},{"s":"dxz: spin-up","e":-2.6,"v":0.22},{"s":"dxz: spin-up","e":-2.45,"v":0.3},{"s":"dxz: spin-up","e":-2.3,"v":0.42},{"s":"dxz: spin-up","e":-2.2,"v":0.47},{"s":"dxz: spin-up","e":-2.1,"v":0.38},{"s":"dxz: spin-up","e":-2,"v":0.3},{"s":"dxz: spin-up","e":-1.85,"v":0.27},{"s":"dxz: spin-up","e":-1.7,"v":0.2},{"s":"dxz: spin-up","e":-1.5,"v":0.25},{"s":"dxz: spin-up","e":-1.3,"v":0.18},{"s":"dxz: spin-up","e":-1.1,"v":0.15},{"s":"dxz: spin-up","e":-0.9,"v":0.12},{"s":"dxz: spin-up","e":-0.75,"v":0.1},{"s":"dxz: spin-up","e":-0.6,"v":0.08},{"s":"dxz: spin-up","e":-0.45,"v":0.12},{"s":"dxz: spin-up","e":-0.3,"v":0.06},{"s":"dxz: spin-up","e":-0.15,"v":0.02},{"s":"dxz: spin-up","e":0,"v":0},{"s":"dxz: spin-up","e":1.2,"v":0},{"s":"dxz: spin-up","e":1.4,"v":0.03},{"s":"dxz: spin-up","e":1.6,"v":0.04},{"s":"dxz: spin-up","e":1.8,"v":0.02},{"s":"dxz: spin-up","e":2,"v":0},{"s":"dxz: spin-up","e":5.3,"v":0},{"s":"dxz: spin-up","e":5.6,"v":0.01},{"s":"dxz: spin-up","e":6.3,"v":0.01},{"s":"dxz: spin-up","e":6.6,"v":0},{"s":"dxz: spin-up","e":8,"v":0},
{"s":"dxz: spin-down","e":-8,"v":0},{"s":"dxz: spin-down","e":-7,"v":0},{"s":"dxz: spin-down","e":-6.8,"v":-0.03},{"s":"dxz: spin-down","e":-6.4,"v":-0.05},{"s":"dxz: spin-down","e":-6,"v":-0.06},{"s":"dxz: spin-down","e":-5.6,"v":-0.07},{"s":"dxz: spin-down","e":-5.2,"v":-0.08},{"s":"dxz: spin-down","e":-4.8,"v":-0.1},{"s":"dxz: spin-down","e":-4.4,"v":-0.09},{"s":"dxz: spin-down","e":-4,"v":-0.1},{"s":"dxz: spin-down","e":-3.6,"v":-0.08},{"s":"dxz: spin-down","e":-3.2,"v":-0.09},{"s":"dxz: spin-down","e":-2.8,"v":-0.08},{"s":"dxz: spin-down","e":-2.4,"v":-0.06},{"s":"dxz: spin-down","e":-2,"v":-0.06},{"s":"dxz: spin-down","e":-1.6,"v":-0.05},{"s":"dxz: spin-down","e":-1.2,"v":-0.06},{"s":"dxz: spin-down","e":-1,"v":-0.08},{"s":"dxz: spin-down","e":-0.85,"v":-0.3},{"s":"dxz: spin-down","e":-0.75,"v":-0.8},{"s":"dxz: spin-down","e":-0.65,"v":-1.05},{"s":"dxz: spin-down","e":-0.55,"v":-1.05},{"s":"dxz: spin-down","e":-0.45,"v":-0.5},{"s":"dxz: spin-down","e":-0.35,"v":-0.15},{"s":"dxz: spin-down","e":-0.2,"v":-0.05},{"s":"dxz: spin-down","e":0,"v":0},{"s":"dxz: spin-down","e":1.2,"v":0},{"s":"dxz: spin-down","e":1.5,"v":-0.08},{"s":"dxz: spin-down","e":1.7,"v":-0.15},{"s":"dxz: spin-down","e":1.85,"v":-0.2},{"s":"dxz: spin-down","e":2,"v":-0.12},{"s":"dxz: spin-down","e":2.2,"v":-0.18},{"s":"dxz: spin-down","e":2.35,"v":-0.45},{"s":"dxz: spin-down","e":2.45,"v":-0.3},{"s":"dxz: spin-down","e":2.6,"v":-0.22},{"s":"dxz: spin-down","e":2.8,"v":-0.1},{"s":"dxz: spin-down","e":3,"v":-0.12},{"s":"dxz: spin-down","e":3.3,"v":-0.15},{"s":"dxz: spin-down","e":3.5,"v":-0.1},{"s":"dxz: spin-down","e":3.7,"v":-0.2},{"s":"dxz: spin-down","e":3.9,"v":-0.12},{"s":"dxz: spin-down","e":4.1,"v":-0.15},{"s":"dxz: spin-down","e":4.3,"v":-0.08},{"s":"dxz: spin-down","e":4.5,"v":-0.03},{"s":"dxz: spin-down","e":4.7,"v":0},{"s":"dxz: spin-down","e":8,"v":0}
]
},
"concat": [
{
 "width": 160, "height": 116, "data": {"name": "a"},
 "resolve": {"scale": {"x": "independent", "y": "independent"}, "axis": {"x": "independent", "y": "independent"}},
 "layer": [
  {"mark": {"type": "line", "strokeWidth": 1, "clip": true},
   "encoding": {
    "x": {"field": "e", "type": "quantitative", "scale": {"domain": [-8, 8], "nice": false}, "axis": {"values": [-8,-6,-4,-2,0,2,4,6,8], "labels": false, "title": null, "domain": false}},
    "y": {"field": "v", "type": "quantitative", "scale": {"domain": [-1, 0.5], "nice": false, "zero": false}, "axis": {"values": [-1,-0.8,-0.6,-0.4,-0.2,0,0.2,0.4], "format": ".1f", "labelExpr": "replace(datum.label, '−', '-')", "title": null, "domain": false}},
    "color": {"field": "s", "type": "nominal", "sort": null, "scale": {"domain": ["dz²: spin-up","dz²: spin-down","dx²-y²: spin-up","dx²-y²: spin-down"], "range": ["#2b2b2b","#ff3b3b","#3a5fd0","#b84dff"]}, "legend": {"legendY": 65}}
   }},
  {"data": {"values": [{}]}, "mark": {"type": "rule", "color": "#444", "strokeWidth": 1}, "encoding": {"x": {"datum": 0, "type": "quantitative", "scale": {"domain": [-8, 8], "nice": false}, "axis": null}}},
  {"data": {"values": [{}]}, "mark": {"type": "text", "fontSize": 10}, "encoding": {"x": {"datum": -7.1, "type": "quantitative", "scale": {"domain": [-8, 8], "nice": false}, "axis": null}, "y": {"datum": 0.33, "type": "quantitative", "scale": {"domain": [-1, 0.5], "nice": false, "zero": false}, "axis": null}, "text": {"value": "(a)"}}},
  {"data": {"values": [{}]}, "mark": {"type": "text", "fontSize": 12}, "encoding": {"x": {"datum": 5.2, "type": "quantitative", "scale": {"domain": [-8, 8], "nice": false}, "axis": null}, "y": {"datum": 0.27, "type": "quantitative", "scale": {"domain": [-1, 0.5], "nice": false, "zero": false}, "axis": null}, "text": {"value": "Mn"}}},
  {"data": {"values": [{}]}, "mark": {"type": "text", "fontSize": 9, "fontWeight": "bold", "angle": 270}, "encoding": {"x": {"datum": 0.6, "type": "quantitative", "scale": {"domain": [-8, 8], "nice": false}, "axis": null}, "y": {"datum": -0.3, "type": "quantitative", "scale": {"domain": [-1, 0.5], "nice": false, "zero": false}, "axis": null}, "text": {"value": "Energy-EF"}}}
 ]
},
{
 "width": 162, "height": 116, "data": {"name": "b"},
 "resolve": {"scale": {"x": "independent", "y": "independent"}, "axis": {"x": "independent", "y": "independent"}},
 "layer": [
  {"mark": {"type": "line", "strokeWidth": 1, "clip": true},
   "encoding": {
    "x": {"field": "e", "type": "quantitative", "scale": {"domain": [-8, 8], "nice": false}, "axis": {"values": [-8,-6,-4,-2,0,2,4,6,8], "labels": false, "title": null, "domain": false}},
    "y": {"field": "v", "type": "quantitative", "scale": {"domain": [-1, 0.5], "nice": false, "zero": false}, "axis": {"values": [-1,-0.8,-0.6,-0.4,-0.2,0,0.2,0.4], "format": ".1f", "labelExpr": "replace(datum.label, '−', '-')", "title": null, "domain": false}},
    "color": {"field": "s", "type": "nominal", "sort": null, "scale": {"domain": ["dz²: spin-up","dz²: spin-down","dx²-y²: spin-up","dx²-y²: spin-down"], "range": ["#2b2b2b","#ff3b3b","#3a5fd0","#b84dff"]}, "legend": {"legendY": 65}}
   }},
  {"data": {"values": [{}]}, "mark": {"type": "rule", "color": "#444", "strokeWidth": 1}, "encoding": {"x": {"datum": 0, "type": "quantitative", "scale": {"domain": [-8, 8], "nice": false}, "axis": null}}},
  {"data": {"values": [{}]}, "mark": {"type": "text", "fontSize": 10}, "encoding": {"x": {"datum": -6.9, "type": "quantitative", "scale": {"domain": [-8, 8], "nice": false}, "axis": null}, "y": {"datum": 0.33, "type": "quantitative", "scale": {"domain": [-1, 0.5], "nice": false, "zero": false}, "axis": null}, "text": {"value": "(b)"}}},
  {"data": {"values": [{}]}, "mark": {"type": "text", "fontSize": 12}, "encoding": {"x": {"datum": 5.2, "type": "quantitative", "scale": {"domain": [-8, 8], "nice": false}, "axis": null}, "y": {"datum": 0.27, "type": "quantitative", "scale": {"domain": [-1, 0.5], "nice": false, "zero": false}, "axis": null}, "text": {"value": "Co"}}},
  {"data": {"values": [{}]}, "mark": {"type": "text", "fontSize": 9, "fontWeight": "bold", "angle": 270}, "encoding": {"x": {"datum": 0.7, "type": "quantitative", "scale": {"domain": [-8, 8], "nice": false}, "axis": null}, "y": {"datum": -0.35, "type": "quantitative", "scale": {"domain": [-1, 0.5], "nice": false, "zero": false}, "axis": null}, "text": {"value": "Energy-EF"}}}
 ]
},
{
 "width": 160, "height": 116, "data": {"name": "c"},
 "resolve": {"scale": {"x": "independent", "y": "independent"}, "axis": {"x": "independent", "y": "independent"}},
 "layer": [
  {"mark": {"type": "line", "strokeWidth": 1, "clip": true},
   "encoding": {
    "x": {"field": "e", "type": "quantitative", "scale": {"domain": [-8, 8], "nice": false}, "axis": {"values": [-8,-6,-4,-2,0,2,4,6,8], "title": "Energy (eV)", "labelFlush": false, "labelExpr": "replace(datum.label, '−', '-')", "titlePadding": 1, "domain": false}},
    "y": {"field": "v", "type": "quantitative", "scale": {"domain": [-1, 0.5], "nice": false, "zero": false}, "axis": {"values": [-1,-0.8,-0.6,-0.4,-0.2,0,0.2,0.4], "format": ".1f", "labelExpr": "replace(datum.label, '−', '-')", "title": "Density of states (states/eV)", "titleY": 9, "titlePadding": 5, "domain": false}},
    "color": {"field": "s", "type": "nominal", "sort": null, "scale": {"domain": ["dxy: spin-up","dxy: spin-down","dyz: spin-up","dyz: spin-down","dxz: spin-up","dxz: spin-down"], "range": ["#2b2b2b","#ff3b3b","#4466ee","#bb55ff","#2e9e2e","#1c1c96"]}, "legend": {"legendY": 53, "rowPadding": 1}}
   }},
  {"data": {"values": [{}]}, "mark": {"type": "rule", "color": "#444", "strokeWidth": 1}, "encoding": {"x": {"datum": 0, "type": "quantitative", "scale": {"domain": [-8, 8], "nice": false}, "axis": null}}},
  {"data": {"values": [{}]}, "mark": {"type": "text", "fontSize": 10}, "encoding": {"x": {"datum": -7.1, "type": "quantitative", "scale": {"domain": [-8, 8], "nice": false}, "axis": null}, "y": {"datum": 0.33, "type": "quantitative", "scale": {"domain": [-1, 0.5], "nice": false, "zero": false}, "axis": null}, "text": {"value": "(c)"}}},
  {"data": {"values": [{}]}, "mark": {"type": "text", "fontSize": 12}, "encoding": {"x": {"datum": 5.2, "type": "quantitative", "scale": {"domain": [-8, 8], "nice": false}, "axis": null}, "y": {"datum": 0.25, "type": "quantitative", "scale": {"domain": [-1, 0.5], "nice": false, "zero": false}, "axis": null}, "text": {"value": "Mn"}}},
  {"data": {"values": [{}]}, "mark": {"type": "text", "fontSize": 9, "fontWeight": "bold", "angle": 270}, "encoding": {"x": {"datum": 0.6, "type": "quantitative", "scale": {"domain": [-8, 8], "nice": false}, "axis": null}, "y": {"datum": -0.45, "type": "quantitative", "scale": {"domain": [-1, 0.5], "nice": false, "zero": false}, "axis": null}, "text": {"value": "Energy-EF"}}}
 ]
},
{
 "width": 162, "height": 116, "data": {"name": "d"},
 "resolve": {"scale": {"x": "independent", "y": "independent"}, "axis": {"x": "independent", "y": "independent"}},
 "layer": [
  {"mark": {"type": "line", "strokeWidth": 1, "clip": true},
   "encoding": {
    "x": {"field": "e", "type": "quantitative", "scale": {"domain": [-8, 8], "nice": false}, "axis": {"values": [-8,-6,-4,-2,0,2,4,6,8], "title": "Energy (eV)", "labelFlush": false, "labelExpr": "replace(datum.label, '−', '-')", "titlePadding": 1, "domain": false}},
    "y": {"field": "v", "type": "quantitative", "scale": {"domain": [-1, 0.5], "nice": false, "zero": false}, "axis": {"values": [-1,-0.8,-0.6,-0.4,-0.2,0,0.2,0.4], "format": ".1f", "labelExpr": "replace(datum.label, '−', '-')", "title": null, "domain": false}},
    "color": {"field": "s", "type": "nominal", "sort": null, "scale": {"domain": ["dxy: spin-up","dxy: spin-down","dyz: spin-up","dyz: spin-down","dxz: spin-up","dxz: spin-down"], "range": ["#2b2b2b","#ff3b3b","#4466ee","#bb55ff","#2e9e2e","#1c1c96"]}, "legend": {"legendY": 53, "rowPadding": 1}}
   }},
  {"data": {"values": [{}]}, "mark": {"type": "rule", "color": "#444", "strokeWidth": 1}, "encoding": {"x": {"datum": 0, "type": "quantitative", "scale": {"domain": [-8, 8], "nice": false}, "axis": null}}},
  {"data": {"values": [{}]}, "mark": {"type": "text", "fontSize": 10}, "encoding": {"x": {"datum": -6.9, "type": "quantitative", "scale": {"domain": [-8, 8], "nice": false}, "axis": null}, "y": {"datum": 0.33, "type": "quantitative", "scale": {"domain": [-1, 0.5], "nice": false, "zero": false}, "axis": null}, "text": {"value": "(d)"}}},
  {"data": {"values": [{}]}, "mark": {"type": "text", "fontSize": 12}, "encoding": {"x": {"datum": 5.2, "type": "quantitative", "scale": {"domain": [-8, 8], "nice": false}, "axis": null}, "y": {"datum": 0.25, "type": "quantitative", "scale": {"domain": [-1, 0.5], "nice": false, "zero": false}, "axis": null}, "text": {"value": "Co"}}},
  {"data": {"values": [{}]}, "mark": {"type": "text", "fontSize": 9, "fontWeight": "bold", "angle": 270}, "encoding": {"x": {"datum": 0.7, "type": "quantitative", "scale": {"domain": [-8, 8], "nice": false}, "axis": null}, "y": {"datum": -0.45, "type": "quantitative", "scale": {"domain": [-1, 0.5], "nice": false, "zero": false}, "axis": null}, "text": {"value": "Energy-EF"}}}
 ]
}
]
}
